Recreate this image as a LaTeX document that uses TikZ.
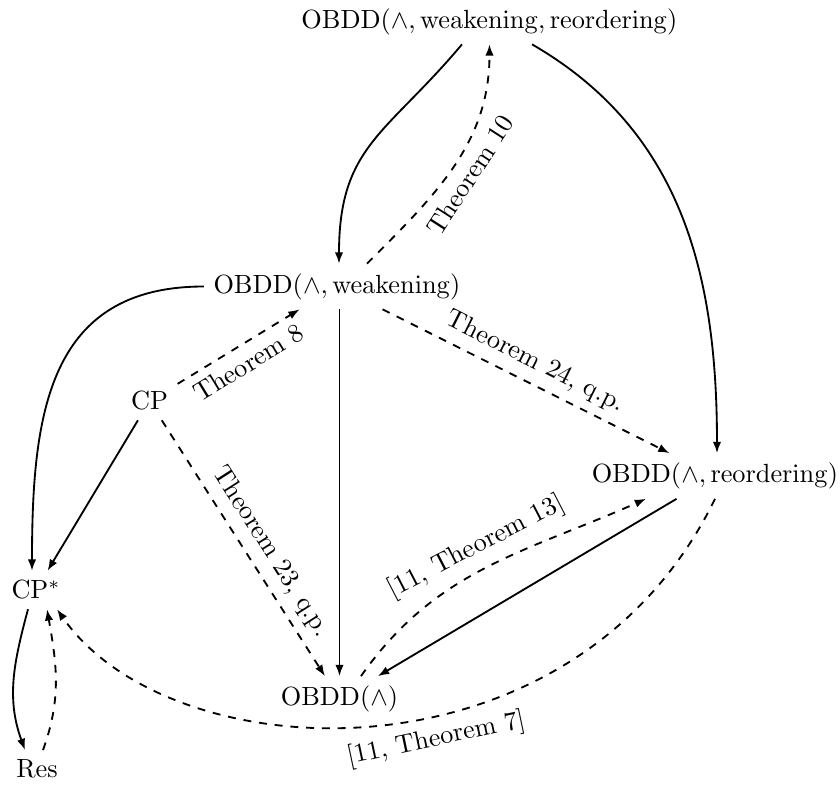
\documentclass[tikz,border=0pt]{standalone}
\usetikzlibrary{calc,arrows.meta}
\begin{document}
\begin{tikzpicture}[x=0.3802pt,y=0.3802pt,>={Latex[length=4.3pt,width=3.2pt]},line width=0.7pt,
  lab/.style={sloped}]
\useasboundingbox (0,0) rectangle (840,791);
\node (top) at (489.5,769.5) {$\mathrm{OBDD}(\wedge, \mathrm{weakening}, \mathrm{reordering})$};
\node (W) at (337,504.5) {$\mathrm{OBDD}(\wedge, \mathrm{weakening})$};
\node (CP) at (149.5,390) {CP};
\node (R) at (715,315) {$\mathrm{OBDD}(\wedge, \mathrm{reordering})$};
\node (CPs) at (36,201) {CP$^*$};
\node (A) at (339.5,92) {$\mathrm{OBDD}(\wedge)$};
\node (Res) at (37,22) {Res};

\draw[->] ($(top.south)+(-27.5,0)$) to[out=-130,in=90,looseness=1.2] ($(W.north)+(2,0)$);
\draw[->,dashed] ($(W.north)+(30,0)$) to[out=45,in=-90] node[lab,below]{Theorem 10} (top.south);
\draw[->] ($(top.south)+(42.5,0)$) to[out=-30,in=90] ($(R.north)+(2,0)$);
\draw[->] (W.west) to[out=180,in=90,looseness=1.2] ($(CPs.north)+(-4,0)$);
\draw[->] (A.north |- W.south) -- (A.north);
\draw[->,dashed] (W) -- node[lab,above]{Theorem 24, q.p.} (R);
\draw[->,dashed] (CP) -- node[lab,below]{Theorem 8} (W);
\draw[->] (CP) -- (CPs);
\draw[->,dashed] (CP) -- node[pos=0.56,lab,above]{Theorem 23, q.p.} (A);
\draw[->,dashed] ($(A.north)+(21.5,0)$) to[out=55,in=-156] node[lab,above]{[11, Theorem 13]} ($(R.south)+(-69,0)$);
\draw[->] (R) -- (A);
\draw[->,dashed] (R.south) .. controls +(-142,-292) and +(114.5,-164) .. node[pos=0.43,lab,below]{[11, Theorem 7]} ($(CPs.south)+(21,0)$);
\draw[->] ($(CPs.south)+(-8,0)$) to[out=-105,in=110] ($(Res.north)+(-12,0)$);
\draw[->,dashed] ($(Res.north)+(6,0)$) to[out=70,in=-80] ($(CPs.south)+(11,0)$);
\end{tikzpicture}
\end{document}
